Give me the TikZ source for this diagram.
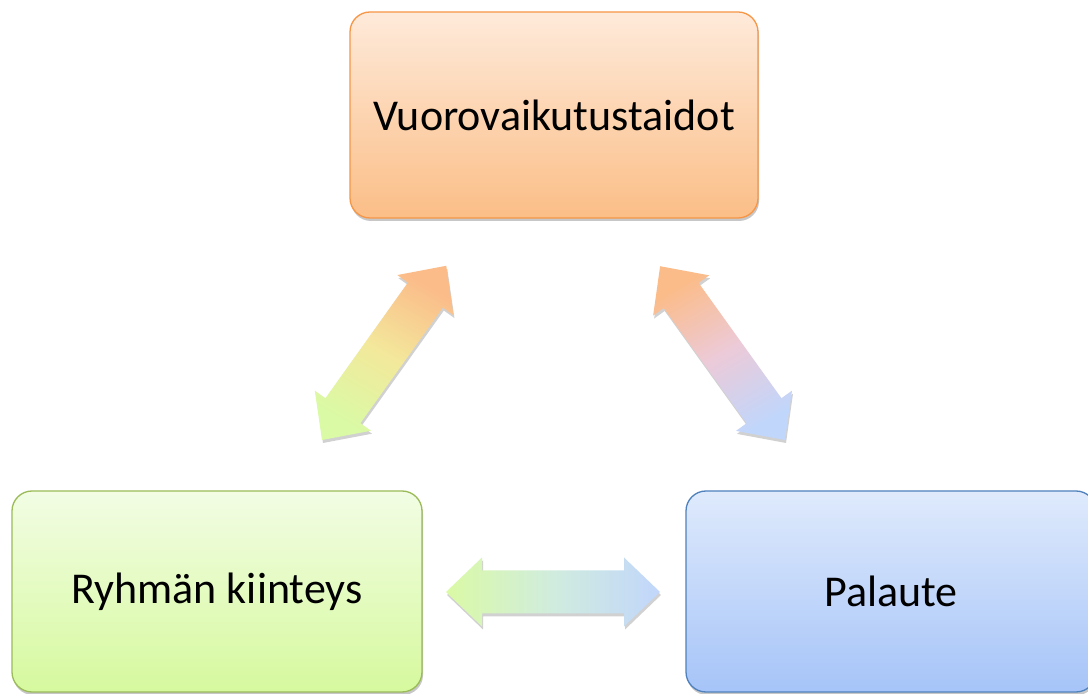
\documentclass[tikz,border=0pt]{standalone}
\usepackage{fontspec}
\setmainfont{Carlito}
\usetikzlibrary{shadows}
\definecolor{orTop}{RGB}{254,234,218}
\definecolor{orBot}{RGB}{251,190,135}
\definecolor{orLine}{RGB}{247,150,70}
\definecolor{grTop}{RGB}{242,253,228}
\definecolor{grBot}{RGB}{214,249,158}
\definecolor{grLine}{RGB}{155,187,89}
\definecolor{blTop}{RGB}{223,234,252}
\definecolor{blBot}{RGB}{166,196,248}
\definecolor{blLine}{RGB}{79,129,189}
\definecolor{arOr}{RGB}{251,188,138}
\definecolor{arGr}{RGB}{218,250,165}
\definecolor{arBl}{RGB}{193,214,251}
\definecolor{arYe}{RGB}{243,232,155}
\definecolor{arPk}{RGB}{236,202,216}
\definecolor{arCy}{RGB}{208,236,222}
\tikzset{
  boxbase/.style={rounded corners=20pt, line width=1.3pt, minimum width=408pt,
    minimum height=204pt, inner sep=0pt, font=\fontsize{44}{52}\selectfont,
    drop shadow={shadow xshift=1pt, shadow yshift=-3pt, opacity=0.22, fill=black}},
  orbox/.style={boxbase, draw=orLine, top color=orTop, bottom color=orBot},
  grbox/.style={boxbase, draw=grLine, top color=grTop, bottom color=grBot},
  blbox/.style={boxbase, draw=blLine, top color=blTop, bottom color=blBot},
  fatarrow/.style={draw=none,
    drop shadow={shadow xshift=1pt, shadow yshift=-3pt, opacity=0.18, fill=black}},
}
\newcommand{\dblarrowpath}[1]{%
  (0,0) -- (36,34.5) -- (36,21.5) -- (#1-36,21.5) -- (#1-36,34.5) -- (#1,0)
  -- (#1-36,-34.5) -- (#1-36,-21.5) -- (36,-21.5) -- (36,-34.5) -- cycle}
\begin{document}
\begin{tikzpicture}[x=1pt,y=1pt]
\clip (0,0) rectangle (1088,694);
\fill[white] (0,0) rectangle (1088,694);

\node[orbox, minimum height=206pt] (vuoro) at (554,579) {Vuorovaikutustaidot};
\node[grbox, minimum width=410pt, minimum height=201pt] (ryhma) at (217,102.5) {Ryhmän kiinteys};
\node[blbox, minimum width=410pt, minimum height=201pt] (palaute) at (891,102.5) {Palaute};

% arrow end points
\coordinate (aL) at (322,254);
\coordinate (aR) at (785,254);
\coordinate (aH) at (446,102);

\begin{scope}[shift={(aL)}, rotate=54.5]
  \path[fatarrow, top color=arOr, bottom color=arGr, middle color=arYe, shading angle=-30] \dblarrowpath{214};
\end{scope}
\begin{scope}[shift={(aR)}, rotate=125.7]
  \path[fatarrow, top color=arOr, bottom color=arBl, middle color=arPk, shading angle=30] \dblarrowpath{214};
\end{scope}
\begin{scope}[shift={(aH)}]
  \path[fatarrow, left color=arGr, right color=arBl, middle color=arCy] \dblarrowpath{214};
\end{scope}
\end{tikzpicture}
\end{document}
